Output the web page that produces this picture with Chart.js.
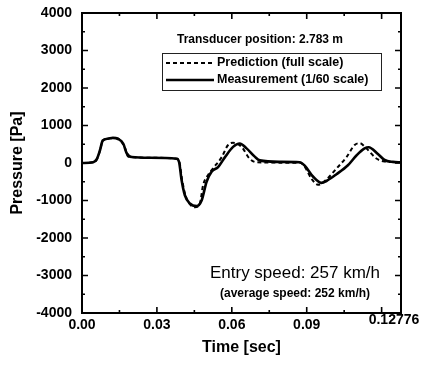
<!DOCTYPE html>
<html>
<head>
<meta charset="utf-8">
<script src="https://cdn.jsdelivr.net/npm/chart.js@4.4.1/dist/chart.umd.min.js"></script>
<style>
  html, body { margin: 0; padding: 0; background: #fff; }
</style>
</head>
<body>
<canvas id="pressureChart" width="422" height="366"></canvas>
<script>
const measTime = [0, 0.0045, 0.0059, 0.0072, 0.0083, 0.0105, 0.0124, 0.0145, 0.0165, 0.0179,
  0.0199, 0.0272, 0.0379, 0.0389, 0.0399, 0.0412, 0.0432, 0.0459, 0.0479, 0.0499,
  0.0519, 0.0545, 0.0572, 0.0605, 0.0632, 0.0659, 0.0692, 0.0712, 0.0792, 0.0872,
  0.0892, 0.0925, 0.0959, 0.0979, 0.1019, 0.1065, 0.1099, 0.1132, 0.1148, 0.1185,
  0.1212, 0.1245, 0.12776];
const measPa = [0, 20, 100, 340, 600, 650, 670, 640, 520, 260,
  160, 140, 115, 20, -460, -860, -1080, -1150, -1000, -500,
  -230, -110, 150, 430, 520, 390, 170, 70, 30, 20,
  -70, -360, -530, -480, -300, -60, 200, 390, 420, 240,
  80, 30, 20];

const predTime = [0, 0.0045, 0.0059, 0.0072, 0.0083, 0.0105, 0.0124, 0.0145, 0.0172, 0.0185,
  0.0205, 0.0272, 0.0379, 0.0391, 0.0401, 0.0415, 0.0435, 0.0452, 0.0472, 0.0485,
  0.0505, 0.0525, 0.0559, 0.0585, 0.0605, 0.0639, 0.0672, 0.0699, 0.0792, 0.0872,
  0.0892, 0.0919, 0.0945, 0.0979, 0.1019, 0.1059, 0.1092, 0.1112, 0.1139, 0.1179,
  0.1212, 0.12776];
const predPa = [0, 20, 90, 330, 590, 650, 670, 650, 400, 170,
  150, 140, 115, 0, -450, -880, -1120, -1180, -1080, -590,
  -320, -140, 150, 480, 540, 430, 110, 20, 10, 10,
  -100, -420, -580, -440, -150, 155, 480, 530, 390, 120,
  40, 20];

const xTickValues = [0, 0.015, 0.03, 0.045, 0.06, 0.075, 0.09, 0.105, 0.12];
const xTickLabels = ["0.00", "", "0.03", "", "0.06", "", "0.09", "", ""];
const xEndLabel = "0.12776";
const yTickValues = [-4000, -3500, -3000, -2500, -2000, -1500, -1000, -500, 0,
  500, 1000, 1500, 2000, 2500, 3000, 3500, 4000];

const FONT = "'Liberation Sans', Arial, sans-serif";

const toPoints = (xs, ys) => xs.map((x, i) => ({ x: x, y: ys[i] }));

// box, inward ticks on all four sides, legend box and text notes
const decorations = {
  id: 'decorations',
  afterDraw(chart) {
    const { ctx, chartArea: a, scales: { x, y } } = chart;
    ctx.save();
    ctx.strokeStyle = '#000';
    ctx.lineWidth = 2;
    ctx.strokeRect(a.left, a.top, a.right - a.left, a.bottom - a.top);

    ctx.lineWidth = 1.6;
    ctx.beginPath();
    xTickValues.forEach((v, i) => {
      const px = x.getPixelForValue(v);
      const len = i % 2 ? 3 : 6;
      ctx.moveTo(px, a.bottom); ctx.lineTo(px, a.bottom - len);
      ctx.moveTo(px, a.top); ctx.lineTo(px, a.top + len);
    });
    yTickValues.forEach(v => {
      const py = y.getPixelForValue(v);
      const len = v % 1000 ? 3 : 6;
      ctx.moveTo(a.left, py); ctx.lineTo(a.left + len, py);
      ctx.moveTo(a.right, py); ctx.lineTo(a.right - len, py);
    });
    ctx.stroke();

    ctx.fillStyle = '#000';
    ctx.textBaseline = 'middle';
    ctx.textAlign = 'center';

    ctx.font = 'bold 14px ' + FONT;
    ctx.fillText(xEndLabel, a.right - 7, a.bottom + 7);

    ctx.font = 'bold 12px ' + FONT;
    ctx.fillText('Transducer position: 2.783 m', 260, 40);

    ctx.font = '17px ' + FONT;
    ctx.fillText('Entry speed: 257 km/h', 295, 273);
    ctx.font = 'bold 12px ' + FONT;
    ctx.fillText('(average speed: 252 km/h)', 295, 294);

    // legend
    ctx.lineWidth = 1;
    ctx.strokeStyle = '#222';
    ctx.strokeRect(162.5, 53.5, 219, 37);
    ctx.textAlign = 'left';
    ctx.font = 'bold 12.5px ' + FONT;
    const rows = [chart.data.datasets[1], chart.data.datasets[0]];
    rows.forEach((ds, i) => {
      const ry = 63 + i * 17;
      ctx.strokeStyle = ds.borderColor;
      ctx.lineWidth = ds.borderWidth;
      ctx.setLineDash(ds.borderDash || []);
      ctx.beginPath();
      ctx.moveTo(166, ry); ctx.lineTo(214, ry);
      ctx.stroke();
      ctx.setLineDash([]);
      ctx.fillText(ds.label, 217, ry);
    });
    ctx.restore();
  }
};

new Chart(document.getElementById('pressureChart'), {
  type: 'line',
  data: {
    datasets: [{
      label: 'Measurement (1/60 scale)',
      data: toPoints(measTime, measPa),
      borderColor: '#000',
      borderWidth: 2.6,
      pointRadius: 0,
      cubicInterpolationMode: 'monotone',
      fill: false,
    }, {
      label: 'Prediction (full scale)',
      data: toPoints(predTime, predPa),
      borderColor: '#000',
      borderWidth: 2,
      borderDash: [4, 3],
      pointRadius: 0,
      cubicInterpolationMode: 'monotone',
      fill: false,
    }],
  },
  options: {
    responsive: false,
    animation: false,
    devicePixelRatio: 1,
    layout: { padding: { top: 13, right: 21, left: 0, bottom: 0 } },
    plugins: { legend: { display: false }, tooltip: { enabled: false } },
    scales: {
      x: {
        type: 'linear',
        min: 0,
        max: 0.12776,
        afterBuildTicks: s => { s.ticks = xTickValues.map(v => ({ value: v })); },
        afterFit: s => { s.height = 53; s.paddingLeft = 0; s.paddingRight = 0; },
        ticks: {
          callback: (v, i) => xTickLabels[i],
          autoSkip: false,
          maxRotation: 0,
          padding: 4,
          color: '#000',
          font: { family: FONT, size: 14, weight: 'bold' },
        },
        grid: { display: false, drawTicks: false },
        border: { display: false },
        title: {
          display: true,
          text: 'Time [sec]',
          color: '#000',
          font: { family: FONT, size: 16, weight: 'bold' },
          padding: { top: 0, bottom: 9 },
        },
      },
      y: {
        min: -4000,
        max: 4000,
        afterBuildTicks: s => { s.ticks = yTickValues.map(v => ({ value: v })); },
        afterFit: s => { s.width = 82; s.paddingTop = 0; s.paddingBottom = 0; },
        ticks: {
          callback: v => (v % 1000 === 0 ? String(v) : ''),
          autoSkip: false,
          padding: 10,
          color: '#000',
          font: { family: FONT, size: 14, weight: 'bold' },
        },
        grid: { display: false, drawTicks: false },
        border: { display: false },
        title: {
          display: true,
          text: 'Pressure [Pa]',
          color: '#000',
          font: { family: FONT, size: 16, weight: 'bold' },
          padding: { top: 8, bottom: 0 },
        },
      },
    },
  },
  plugins: [decorations],
});
</script>
</body>
</html>
